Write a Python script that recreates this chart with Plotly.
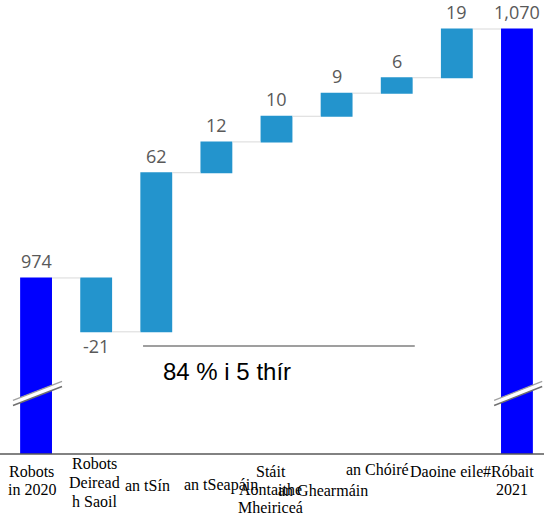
import plotly.graph_objects as go

# ---- data ----
categories = [["Robots", "in 2020"], ["Robots", "Deiread", "h Saoil"], ["an tSín"], ["an tSeapáin"],
              ["Stáit", "Aontaithe", "Mheiriceá"], ["an Ghearmáin"], ["an Chóiré"], ["Daoine eile"],
              ["#Róbait", "2021"]]
values = [974, -21, 62, 12, 10, 9, 6, 19, 1070]
measures = ["absolute", "relative", "relative", "relative", "relative", "relative",
            "relative", "relative", "total"]
value_labels = ["974", "-21", "62", "12", "10", "9", "6", "19", "1,070"]
bracket_text = "84 % i 5 thír"

# ---- layout helpers (styles / positions, in pixels) ----
label_xshift = [[-4.5, -4.5], [-1.5, -1.5, -1.5], [-8.5], [5], [-6, -6, -6], [-14], [-19], [-10], [-8, -5]]
label_ypix = [[471, 489], [463, 482, 501], [485], [485], [471, 489, 507], [490], [469], [471], [471, 489]]
baseline_px = 454
y_range = [905.4, 1082.3]
x_range = [-0.5, 8.45]

x = list(range(len(values)))

fig = go.Figure()
fig.add_trace(go.Waterfall(
    x=x, y=values, measure=measures, base=0,
    width=0.53,
    increasing=dict(marker=dict(color="#2394CD")),
    decreasing=dict(marker=dict(color="#2394CD")),
    totals=dict(marker=dict(color="#0000FF")),
    connector=dict(line=dict(color="#d9d9d9", width=1), mode="between"),
    textinfo="none", hoverinfo="skip",
))

# bar ends for value labels
cum = 0.0
annotations = []
vfont = dict(family="Open Sans", size=18, color="#595959")
for i, (v, m) in enumerate(zip(values, measures)):
    if m == "absolute":
        start, end = 0, v
        cum = v
    elif m == "total":
        start, end = 0, cum
    else:
        start, end = cum, cum + v
        cum = cum + v
    if end >= start:
        annotations.append(dict(x=i, y=end, text=value_labels[i], showarrow=False,
                                yanchor="bottom", yshift=3, font=vfont))
    else:
        annotations.append(dict(x=i, y=end, text=value_labels[i], showarrow=False,
                                yanchor="top", yshift=0, font=vfont))

for i, lines in enumerate(categories):
    for j, line in enumerate(lines):
        annotations.append(dict(x=i, y=0, yref="paper", text=line, showarrow=False,
                                xanchor="center", yanchor="middle",
                                xshift=label_xshift[i][j], yshift=-(label_ypix[i][j] - baseline_px),
                                font=dict(family="Liberation Serif", size=16, color="#000000")))

annotations.append(dict(x=3.17, y=937.7, text=bracket_text, showarrow=False,
                        xanchor="center", yanchor="middle",
                        font=dict(family="Liberation Sans", size=24, color="#000000")))

shapes = []
# bracket line
shapes.append(dict(type="line", xref="x", yref="y", x0=1.78, x1=6.3, y0=947.5, y1=947.5,
                   line=dict(color="#7f7f7f", width=1.5)))
# axis break marks
for (xl, xr) in [(-0.384, 0.432), (7.62, 8.42)]:
    yl, yr = 925.3, 932.7
    h = 1.0
    shapes.append(dict(type="path", xref="x", yref="y",
                       path=f"M {xl},{yl-h} L {xr},{yr-h} L {xr},{yr+h} L {xl},{yl+h} Z",
                       fillcolor="white", line=dict(width=0)))
    shapes.append(dict(type="line", xref="x", yref="y", x0=xl, x1=xr, y0=yl-h, y1=yr-h,
                       line=dict(color="#707070", width=1.5)))
    shapes.append(dict(type="line", xref="x", yref="y", x0=xl, x1=xr, y0=yl+h, y1=yr+h,
                       line=dict(color="#a0a0a0", width=1.2)))
# baseline axis
shapes.append(dict(type="line", xref="paper", yref="paper", x0=-0.012, x1=1, y0=0, y1=0,
                   line=dict(color="#595959", width=1.5)))

fig.update_layout(
    width=544, height=516,
    margin=dict(l=6, r=0, t=0, b=516 - baseline_px),
    paper_bgcolor="white", plot_bgcolor="white",
    showlegend=False,
    xaxis=dict(range=x_range, showticklabels=False, showgrid=False, zeroline=False,
               showline=False, ticks=""),
    yaxis=dict(range=y_range, showticklabels=False, showgrid=False, zeroline=False,
               showline=False, ticks=""),
    annotations=annotations,
    shapes=shapes,
)

fig.write_html("out.html", config={"displayModeBar": False},
               post_script="document.body.style.margin='0';document.body.style.overflow='hidden';")
